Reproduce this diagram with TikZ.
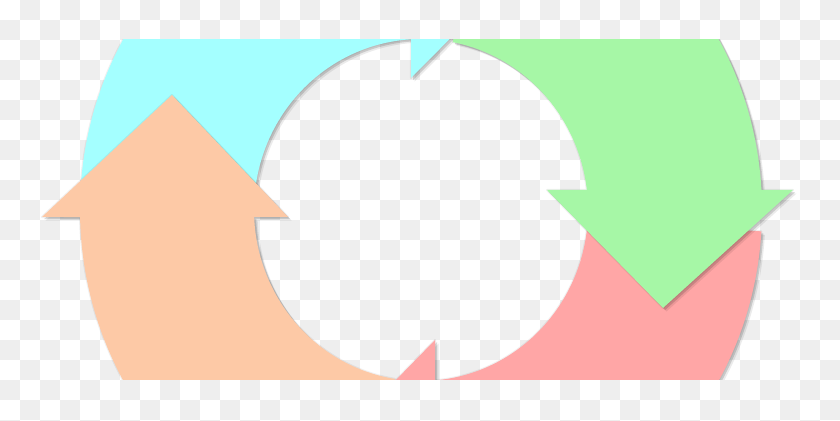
\documentclass[tikz,border=0pt]{standalone}
\usetikzlibrary{calc}
\definecolor{checkgray}{HTML}{EEEEEE}
\definecolor{cyanfill}{HTML}{A4FFFF}
\definecolor{greenfill}{HTML}{A6F7A6}
\definecolor{pinkfill}{HTML}{FFA6A6}
\definecolor{peachfill}{HTML}{FDC9A6}

\begin{document}
\begin{tikzpicture}[x = 0.02cm, y = 0.02cm,
		checker/.style = {fill = checkgray},
		arrowshade/.style = {
			preaction = {draw = black, opacity = 0.06, line width = 1.2pt, line join = round},
			preaction = {fill = black, opacity = 0.08, transform canvas = {xshift = 2pt, yshift = -2pt}},
			preaction = {fill = black, opacity = 0.14, transform canvas = {xshift = 1.2pt, yshift = -1.2pt}}},
		cyanarrow/.style = {arrowshade, fill = cyanfill},
		greenarrow/.style = {arrowshade, fill = greenfill},
		pinkarrow/.style = {arrowshade, fill = pinkfill},
		peacharrow/.style = {arrowshade, fill = peachfill}]
		\clip (0,0) rectangle (840,421);
		% Checkerboard background
		\fill [white] (0,0) rectangle (840,421);
		\foreach \i in {0,...,41}
			\foreach \j in {0,...,21} {
				\pgfmathtruncatemacro{\odd}{mod(\i+\j,2)}
				\ifnum\odd=1 \fill [checker] (20*\i,401-20*\j) rectangle ++(20,20); \fi
			}
		\coordinate (O) at (421,211);
		\begin{scope}
			\clip (0,41) rectangle (840,381);
			% Cyan arrow along the top
			\fill [cyanarrow] ($(O)+(93.43:167 and 171)$) -- (411,343) -- (533,466) -- (411,590) -- ($(O)+(91.68:341 and 350)$)
				arc [start angle = 91.68, end angle = 178, x radius = 341, y radius = 350] -- ($(O)+(178:167 and 171)$)
				arc [start angle = 178, end angle = 93.43, x radius = 167, y radius = 171] -- cycle;
			% Peach arrow up the left side
			\fill [peacharrow] ($(O)+(181.15:341 and 350)$) -- (42,204) -- (172,326) -- (288,204) -- ($(O)+(182.35:167 and 171)$)
				arc [start angle = 182.35, end angle = 261, x radius = 167, y radius = 171] -- ($(O)+(261:341 and 350)$)
				arc [start angle = 261, end angle = 181.15, x radius = 341, y radius = 350] -- cycle;
			% Pink arrow along the bottom
			\fill [pinkarrow] ($(O)+(274.81:167 and 171)$) -- (435,81) -- (313,-44) -- (435,-168) -- ($(O)+(272.35:341 and 350)$)
				arc [start angle = 272.35, end angle = 356.5, x radius = 341, y radius = 350] -- ($(O)+(356.5:167 and 171)$)
				arc [start angle = 356.5, end angle = 274.81, x radius = 167, y radius = 171] -- cycle;
			% Green arrow down the right side
			\fill [greenarrow] ($(O)+(3.28:341 and 350)$) -- (793,231) -- (663,113) -- (547,231) -- ($(O)+(6.72:167 and 171)$)
				arc [start angle = 6.72, end angle = 79, x radius = 167, y radius = 171] -- ($(O)+(79:341 and 350)$)
				arc [start angle = 79, end angle = 3.28, x radius = 341, y radius = 350] -- cycle;
		\end{scope}
	\end{tikzpicture}
\end{document}
